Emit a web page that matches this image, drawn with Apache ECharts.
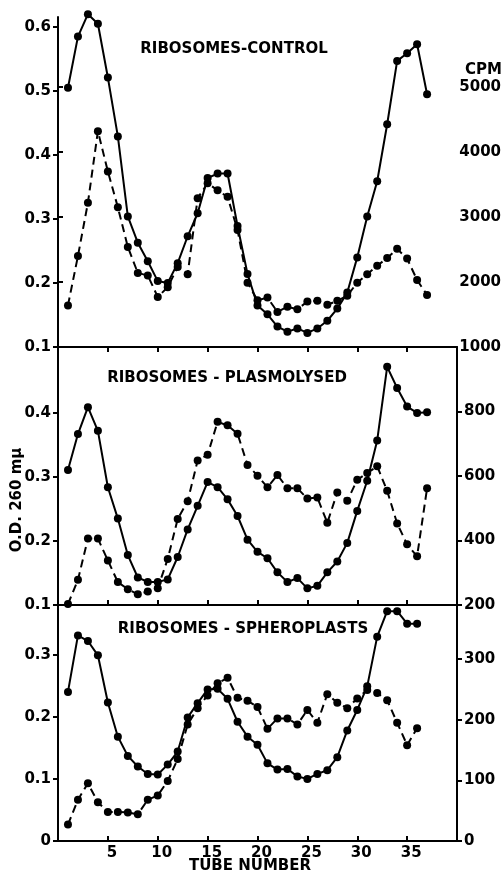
<!DOCTYPE html>
<html>
<head>
<meta charset="utf-8">
<script src="https://cdn.jsdelivr.net/npm/echarts@6/dist/echarts.min.js"></script>
<style>
  html, body { margin: 0; padding: 0; background: #fff; }
  #chart { width: 504px; height: 877px; }
</style>
</head>
<body>
<div id="chart"></div>
<script>
// tube numbers
const tubes37 = [1, 2, 3, 4, 5, 6, 7, 8, 9, 10, 11, 12, 13, 14, 15, 16, 17, 18, 19, 20, 21, 22, 23, 24, 25, 26, 27, 28, 29, 30, 31, 32, 33, 34, 35, 36, 37]
const tubes36 = [1, 2, 3, 4, 5, 6, 7, 8, 9, 10, 11, 12, 13, 14, 15, 16, 17, 18, 19, 20, 21, 22, 23, 24, 25, 26, 27, 28, 29, 30, 31, 32, 33, 34, 35, 36]

// ribosomes - control
const controlOD = [0.505, 0.585, 0.62, 0.605, 0.521, 0.429, 0.304, 0.263, 0.234, 0.203, 0.200, 0.231, 0.273, 0.309, 0.364, 0.371, 0.371, 0.289, 0.214, 0.165, 0.151, 0.132, 0.124, 0.129, 0.122, 0.129, 0.141, 0.160, 0.185, 0.240, 0.304, 0.359, 0.448, 0.547, 0.559, 0.573, 0.495]
const controlCPM = [1640, 2400, 3220, 4320, 3700, 3150, 2540, 2140, 2100, 1770, 1920, 2230, 2120, 3290, 3520, 3410, 3310, 2800, 1990, 1720, 1760, 1540, 1620, 1580, 1700, 1710, 1650, 1710, 1790, 1990, 2120, 2250, 2370, 2510, 2360, 2030, 1800]

// ribosomes - plasmolysed
const plasOD = [0.311, 0.367, 0.409, 0.372, 0.284, 0.235, 0.178, 0.143, 0.136, 0.136, 0.140, 0.175, 0.218, 0.255, 0.292, 0.284, 0.265, 0.239, 0.202, 0.183, 0.173, 0.151, 0.136, 0.142, 0.126, 0.130, 0.151, 0.168, 0.197, 0.247, 0.294, 0.357, 0.472, 0.439, 0.410, 0.400, 0.401]
const plasCPM = [203, 278, 406, 406, 338, 271, 249, 233, 242, 252, 343, 467, 522, 648, 666, 768, 757, 731, 634, 601, 565, 603, 562, 562, 530, 533, 455, 549, 523, 588, 609, 630, 554, 453, 388, 351, 562]

// ribosomes - spheroplasts
const spherOD = [0.24, 0.331, 0.322, 0.299, 0.223, 0.168, 0.137, 0.12, 0.108, 0.107, 0.123, 0.144, 0.199, 0.222, 0.244, 0.245, 0.229, 0.192, 0.168, 0.155, 0.125, 0.115, 0.116, 0.104, 0.100, 0.108, 0.114, 0.135, 0.178, 0.211, 0.249, 0.329, 0.37, 0.37, 0.35, 0.35]
const spherCPM = [27, 68, 95, 64, 48, 48, 47, 44, 68, 75, 99, 135, 192, 219, 240, 260, 269, 236, 231, 221, 185, 202, 202, 192, 216, 195, 242, 228, 219, 235, 249, 244, 232, 195, 158, 186]

// tick labels
const xTicks = [5, 10, 15, 20, 25, 30, 35]
const odTicksTop = [0.1, 0.2, 0.3, 0.4, 0.5, 0.6]
const odTicksMid = [0.1, 0.2, 0.3, 0.4]
const odTicksBot = [0, 0.1, 0.2, 0.3]
const cpmTicksTop = [1000, 2000, 3000, 4000, 5000]
const cpmTicksMid = [200, 400, 600, 800]
const cpmTicksBot = [0, 100, 200, 300]

const FONT = 'DejaVu Sans'
const axisLine = { show: true, lineStyle: { color: '#000', width: 2 } }

function pairs(xs, ys) {
  return xs.map((x, i) => [x, ys[i]])
}

function xAxis(grid, inside, labels) {
  return {
    type: 'value', gridIndex: grid, min: 0, max: 40,
    axisLine: axisLine,
    axisTick: { show: true, inside: inside, length: 5, customValues: xTicks, lineStyle: { color: '#000', width: 2 } },
    axisLabel: { show: labels, customValues: xTicks, color: '#000', fontFamily: FONT, fontWeight: 'bold', fontSize: 15, margin: 5, padding: [0, 0, 0, 8] },
    splitLine: { show: false }
  }
}

function yAxis(grid, pos, min, max, ticks) {
  return {
    type: 'value', gridIndex: grid, position: pos, min: min, max: max,
    axisLine: axisLine,
    axisTick: { show: true, length: 5, customValues: ticks, lineStyle: { color: '#000', width: 2 } },
    axisLabel: {
      customValues: ticks, color: '#000', fontFamily: FONT, fontWeight: 'bold', fontSize: 15, margin: 7,
      formatter: v => String(v)
    },
    splitLine: { show: false }
  }
}

function series(grid, yIdx, xs, ys, dashed) {
  return {
    type: 'line', xAxisIndex: grid, yAxisIndex: yIdx,
    data: pairs(xs, ys),
    symbol: 'circle', symbolSize: 8, clip: false, silent: true,
    itemStyle: { color: '#000' },
    lineStyle: { color: '#000', width: 2, type: dashed ? [8, 5] : 'solid' }
  }
}

const chart = echarts.init(document.getElementById('chart'))

const hiddenTopCPM = { type: 'value', gridIndex: 0, position: 'right', min: 1000, max: 6077, show: false }

const option = {
  backgroundColor: '#fff',
  animation: false,
  grid: [
    { left: 58, right: 47, top: 17, height: 330 },
    { left: 58, right: 47, top: 347, height: 258 },
    { left: 58, right: 47, top: 605, height: 236 },
    { left: 58, right: 47, top: 87, height: 260 }
  ],
  xAxis: [
    xAxis(0, false, false),
    xAxis(1, true, false),
    xAxis(2, true, true),
    { type: 'value', gridIndex: 3, min: 0, max: 40, show: false }
  ],
  yAxis: [
    yAxis(0, 'left', 0.1, 0.6156, odTicksTop),
    hiddenTopCPM,
    yAxis(1, 'left', 0.1, 0.503, odTicksMid),
    yAxis(1, 'right', 200, 1000, cpmTicksMid),
    yAxis(2, 'left', 0, 0.38, odTicksBot),
    yAxis(2, 'right', 0, 389, cpmTicksBot),
    yAxis(3, 'right', 1000, 5000, cpmTicksTop)
  ],
  series: [
    series(0, 0, tubes37, controlOD, false),
    series(0, 1, tubes37, controlCPM, true),
    series(1, 2, tubes37, plasOD, false),
    series(1, 3, tubes37, plasCPM, true),
    series(2, 4, tubes36, spherOD, false),
    series(2, 5, tubes36, spherCPM, true)
  ],
  graphic: [
    { type: 'text', x: 234, y: 49, style: { text: 'RIBOSOMES-CONTROL', font: 'bold 15px ' + FONT, fill: '#000', textAlign: 'center', textVerticalAlign: 'middle' } },
    { type: 'text', x: 227, y: 378, style: { text: 'RIBOSOMES - PLASMOLYSED', font: 'bold 15px ' + FONT, fill: '#000', textAlign: 'center', textVerticalAlign: 'middle' } },
    { type: 'text', x: 243, y: 629, style: { text: 'RIBOSOMES - SPHEROPLASTS', font: 'bold 15px ' + FONT, fill: '#000', textAlign: 'center', textVerticalAlign: 'middle' } },
    { type: 'text', x: 465, y: 70, style: { text: 'CPM', font: 'bold 15px ' + FONT, fill: '#000', textAlign: 'left', textVerticalAlign: 'middle' } },
    { type: 'text', x: 17, y: 500, rotation: Math.PI / 2, style: { text: 'O.D. 260 mμ', font: 'bold 15px ' + FONT, fill: '#000', textAlign: 'center', textVerticalAlign: 'middle' } },
    { type: 'text', x: 250, y: 866, style: { text: 'TUBE NUMBER', font: 'bold 15px ' + FONT, fill: '#000', textAlign: 'center', textVerticalAlign: 'middle' } }
  ]
}

chart.setOption(option)
</script>
</body>
</html>
